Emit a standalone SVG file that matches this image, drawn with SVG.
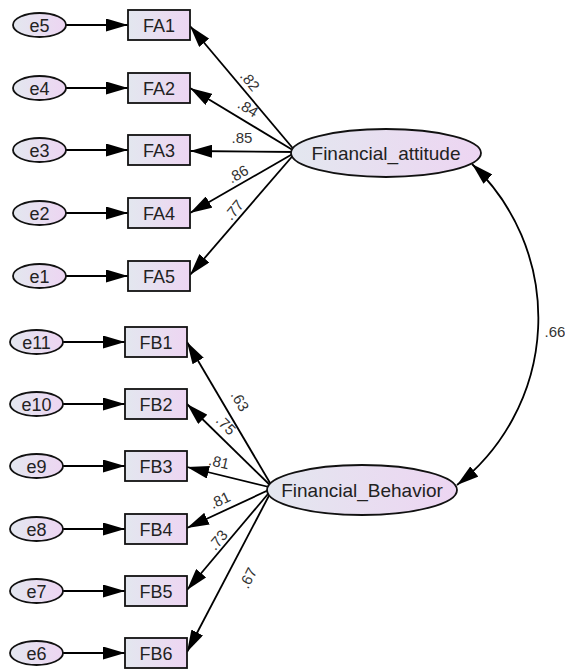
<svg xmlns="http://www.w3.org/2000/svg" width="565" height="670" viewBox="0 0 565 670">
<defs>
<linearGradient id="g" x1="0" y1="0" x2="1" y2="0">
<stop offset="0" stop-color="#e3e7ef"/>
<stop offset="1" stop-color="#edd5f2"/>
</linearGradient>
<marker id="ah" viewBox="0 0 22 13" refX="22" refY="6.5" markerWidth="22" markerHeight="13" markerUnits="userSpaceOnUse" orient="auto-start-reverse">
<path d="M0,0 L22,6.5 L0,13 z" fill="#000"/>
</marker>
<style>
.n{fill:url(#g);stroke:#111;stroke-width:1.8}
.t{font-family:"Liberation Sans",Arial,sans-serif;font-size:18px;fill:#222;text-anchor:middle}
.lv{font-family:"Liberation Sans",Arial,sans-serif;font-size:19px;fill:#222;text-anchor:middle}
.c{stroke:#000;stroke-width:1.8;fill:none;marker-end:url(#ah)}
.cc{stroke:#000;stroke-width:1.8;fill:none;marker-end:url(#ah);marker-start:url(#ah)}
.l{font-family:"Liberation Sans",Arial,sans-serif;font-size:15px;fill:#333;text-anchor:middle}
</style>
</defs>
<g id="connectors">
<line class="c" x1="66" y1="25" x2="128" y2="25"/>
<line class="c" x1="66" y1="88" x2="128" y2="88"/>
<line class="c" x1="66" y1="150" x2="128" y2="150"/>
<line class="c" x1="66" y1="213" x2="128" y2="213"/>
<line class="c" x1="66" y1="276" x2="128" y2="276"/>
<line class="c" x1="63" y1="342" x2="125" y2="342"/>
<line class="c" x1="63" y1="404" x2="125" y2="404"/>
<line class="c" x1="63" y1="466" x2="125" y2="466"/>
<line class="c" x1="63" y1="529" x2="125" y2="529"/>
<line class="c" x1="63" y1="591" x2="125" y2="591"/>
<line class="c" x1="63" y1="653" x2="125" y2="653"/>
<line class="c" x1="296" y1="152" x2="190" y2="26"/>
<line class="c" x1="296" y1="152" x2="190" y2="88"/>
<line class="c" x1="296" y1="152" x2="190" y2="151"/>
<line class="c" x1="296" y1="152" x2="190" y2="213"/>
<line class="c" x1="296" y1="152" x2="190" y2="275"/>
<line class="c" x1="273" y1="488" x2="187" y2="342"/>
<line class="c" x1="273" y1="488" x2="187" y2="404"/>
<line class="c" x1="273" y1="488" x2="187" y2="467"/>
<line class="c" x1="273" y1="488" x2="187" y2="528"/>
<line class="c" x1="273" y1="488" x2="187" y2="590"/>
<line class="c" x1="273" y1="488" x2="187" y2="652"/>
<path class="cc" d="M472 164 A212 212 0 0 1 457 485"/>
<text class="l" transform="translate(250,81) rotate(50.6)" dy="0.35em">.82</text>
<text class="l" transform="translate(248,108) rotate(32)" dy="0.35em">.84</text>
<text class="l" transform="translate(242,138)" dy="0.35em">.85</text>
<text class="l" transform="translate(238,174) rotate(-30)" dy="0.35em">.86</text>
<text class="l" transform="translate(234,210) rotate(-50)" dy="0.35em">.77</text>
<text class="l" transform="translate(240,401) rotate(60)" dy="0.35em">.63</text>
<text class="l" transform="translate(226,425) rotate(45)" dy="0.35em">.75</text>
<text class="l" transform="translate(219,462) rotate(13)" dy="0.35em">.81</text>
<text class="l" transform="translate(220,500) rotate(-25)" dy="0.35em">.81</text>
<text class="l" transform="translate(218,540) rotate(-50)" dy="0.35em">.73</text>
<text class="l" transform="translate(248,578) rotate(-63)" dy="0.35em">.67</text>
<text class="l" x="555" y="337">.66</text>
</g>
<g id="e5"><ellipse class="n" cx="39.5" cy="25" rx="26.5" ry="12"/><text class="t" x="39.5" y="31.5">e5</text></g>
<g id="e4"><ellipse class="n" cx="39.5" cy="88" rx="26.5" ry="12"/><text class="t" x="39.5" y="94.5">e4</text></g>
<g id="e3"><ellipse class="n" cx="39.5" cy="150" rx="26.5" ry="12"/><text class="t" x="39.5" y="156.5">e3</text></g>
<g id="e2"><ellipse class="n" cx="39.5" cy="213" rx="26.5" ry="12"/><text class="t" x="39.5" y="219.5">e2</text></g>
<g id="e1"><ellipse class="n" cx="39.5" cy="276" rx="26.5" ry="12"/><text class="t" x="39.5" y="282.5">e1</text></g>
<g id="FA1"><rect class="n" x="128" y="10" width="62" height="30"/><text class="t" x="159" y="31.5">FA1</text></g>
<g id="FA2"><rect class="n" x="128" y="73" width="62" height="30"/><text class="t" x="159" y="94.5">FA2</text></g>
<g id="FA3"><rect class="n" x="128" y="135" width="62" height="30"/><text class="t" x="159" y="156.5">FA3</text></g>
<g id="FA4"><rect class="n" x="128" y="198" width="62" height="30"/><text class="t" x="159" y="219.5">FA4</text></g>
<g id="FA5"><rect class="n" x="128" y="261" width="62" height="30"/><text class="t" x="159" y="282.5">FA5</text></g>
<g id="Financial_attitude"><ellipse class="n" cx="386" cy="153" rx="95" ry="24"/><text class="lv" x="386" y="160">Financial_attitude</text></g>
<g id="e11"><ellipse class="n" cx="36.5" cy="342" rx="26.5" ry="12"/><text class="t" x="36.5" y="348.5">e11</text></g>
<g id="e10"><ellipse class="n" cx="36.5" cy="404" rx="26.5" ry="12"/><text class="t" x="36.5" y="410.5">e10</text></g>
<g id="e9"><ellipse class="n" cx="36.5" cy="466" rx="26.5" ry="12"/><text class="t" x="36.5" y="472.5">e9</text></g>
<g id="e8"><ellipse class="n" cx="36.5" cy="529" rx="26.5" ry="12"/><text class="t" x="36.5" y="535.5">e8</text></g>
<g id="e7"><ellipse class="n" cx="36.5" cy="591" rx="26.5" ry="12"/><text class="t" x="36.5" y="597.5">e7</text></g>
<g id="e6"><ellipse class="n" cx="36.5" cy="653" rx="26.5" ry="12"/><text class="t" x="36.5" y="659.5">e6</text></g>
<g id="FB1"><rect class="n" x="125" y="327" width="62" height="30"/><text class="t" x="156" y="348.5">FB1</text></g>
<g id="FB2"><rect class="n" x="125" y="389" width="62" height="30"/><text class="t" x="156" y="410.5">FB2</text></g>
<g id="FB3"><rect class="n" x="125" y="451" width="62" height="30"/><text class="t" x="156" y="472.5">FB3</text></g>
<g id="FB4"><rect class="n" x="125" y="514" width="62" height="30"/><text class="t" x="156" y="535.5">FB4</text></g>
<g id="FB5"><rect class="n" x="125" y="576" width="62" height="30"/><text class="t" x="156" y="597.5">FB5</text></g>
<g id="FB6"><rect class="n" x="125" y="638" width="62" height="30"/><text class="t" x="156" y="659.5">FB6</text></g>
<g id="Financial_Behavior"><ellipse class="n" cx="362" cy="490" rx="95" ry="25"/><text class="lv" x="362" y="497">Financial_Behavior</text></g>
</svg>
